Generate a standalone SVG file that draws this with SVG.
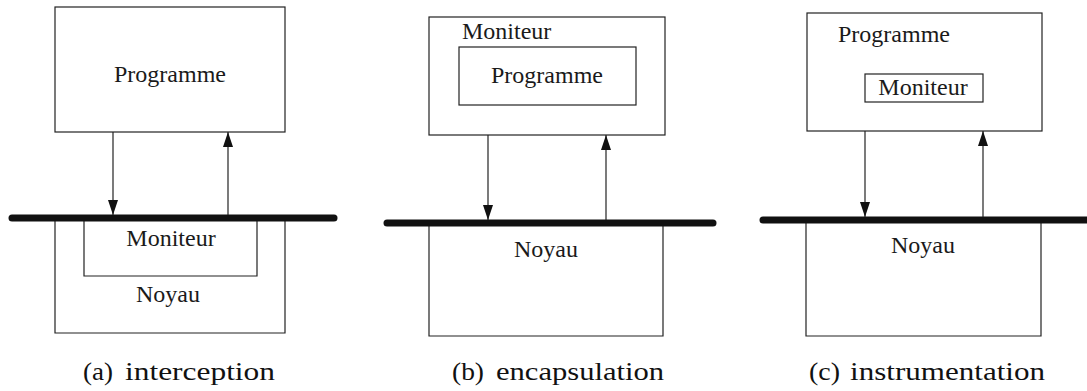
<svg xmlns="http://www.w3.org/2000/svg" width="1087" height="391" viewBox="0 0 1087 391">
<style>
.box{fill:none;stroke:#222;stroke-width:1.2}
.lbl{font-family:"Liberation Serif","Times New Roman",serif;font-size:24px;fill:#1a1a1a}
.cap{font-family:"Liberation Serif","Times New Roman",serif;font-size:25px;fill:#111}
.bar{stroke:#111;stroke-width:7;stroke-linecap:round}
.arr{stroke:#222;stroke-width:1.2;fill:none}
</style>
<defs>
<marker id="ah" viewBox="0 0 15 10" refX="15" refY="5" markerWidth="15" markerHeight="10" markerUnits="userSpaceOnUse" orient="auto">
<path d="M0,0 L15,5 L0,10 Z" fill="#111"/>
</marker>
</defs>
<rect width="1087" height="391" fill="#fff"/>

<!-- Panel a -->
<g id="a-programme"><rect class="box" x="55" y="7" width="230" height="125"/><text class="lbl" x="170" y="82" text-anchor="middle">Programme</text></g>
<g id="a-noyau"><path class="box" d="M55,218 V333 H285 V218"/><text class="lbl" x="168" y="302" text-anchor="middle">Noyau</text></g>
<g id="a-moniteur"><path class="box" d="M84,218 V276 H257 V218"/><text class="lbl" x="171" y="246" text-anchor="middle">Moniteur</text></g>
<g id="a-bar"><line class="bar" x1="12" y1="218" x2="334" y2="218"/></g>
<text class="cap" y="380"><tspan x="83" textLength="30" lengthAdjust="spacingAndGlyphs">(a)</tspan><tspan x="125" textLength="150" lengthAdjust="spacingAndGlyphs">interception</tspan></text>

<!-- Panel b -->
<g id="b-moniteur"><rect class="box" x="429" y="17" width="236" height="118"/><text class="lbl" x="462" y="39">Moniteur</text></g>
<g id="b-programme"><rect class="box" x="459" y="47" width="177" height="58"/><text class="lbl" x="547" y="83" text-anchor="middle">Programme</text></g>
<g id="b-noyau"><path class="box" d="M429,223 V336 H663 V223"/><text class="lbl" x="546" y="257" text-anchor="middle">Noyau</text></g>
<g id="b-bar"><line class="bar" x1="387" y1="223" x2="713" y2="223"/></g>
<text class="cap" y="380"><tspan x="452" textLength="32" lengthAdjust="spacingAndGlyphs">(b)</tspan><tspan x="496" textLength="168" lengthAdjust="spacingAndGlyphs">encapsulation</tspan></text>

<!-- Panel c -->
<g id="c-programme"><rect class="box" x="807" y="13" width="235" height="118"/><text class="lbl" x="838" y="42">Programme</text></g>
<g id="c-moniteur"><rect class="box" x="865" y="74" width="118" height="28"/><text class="lbl" x="923" y="95" text-anchor="middle">Moniteur</text></g>
<g id="c-noyau"><path class="box" d="M806,220 V336 H1041 V220"/><text class="lbl" x="923" y="253" text-anchor="middle">Noyau</text></g>
<g id="c-bar"><line class="bar" x1="763" y1="220" x2="1095" y2="220"/></g>
<text class="cap" y="380"><tspan x="809" textLength="31" lengthAdjust="spacingAndGlyphs">(c)</tspan><tspan x="850" textLength="195" lengthAdjust="spacingAndGlyphs">instrumentation</tspan></text>

<g id="connectors">
<line class="arr" x1="113" y1="132" x2="113" y2="215" marker-end="url(#ah)"/>
<line class="arr" x1="228" y1="215" x2="228" y2="132" marker-end="url(#ah)"/>
<line class="arr" x1="488" y1="135" x2="488" y2="220" marker-end="url(#ah)"/>
<line class="arr" x1="606" y1="220" x2="606" y2="135" marker-end="url(#ah)"/>
<line class="arr" x1="865" y1="131" x2="865" y2="217" marker-end="url(#ah)"/>
<line class="arr" x1="983" y1="217" x2="983" y2="131" marker-end="url(#ah)"/>
</g>
</svg>
